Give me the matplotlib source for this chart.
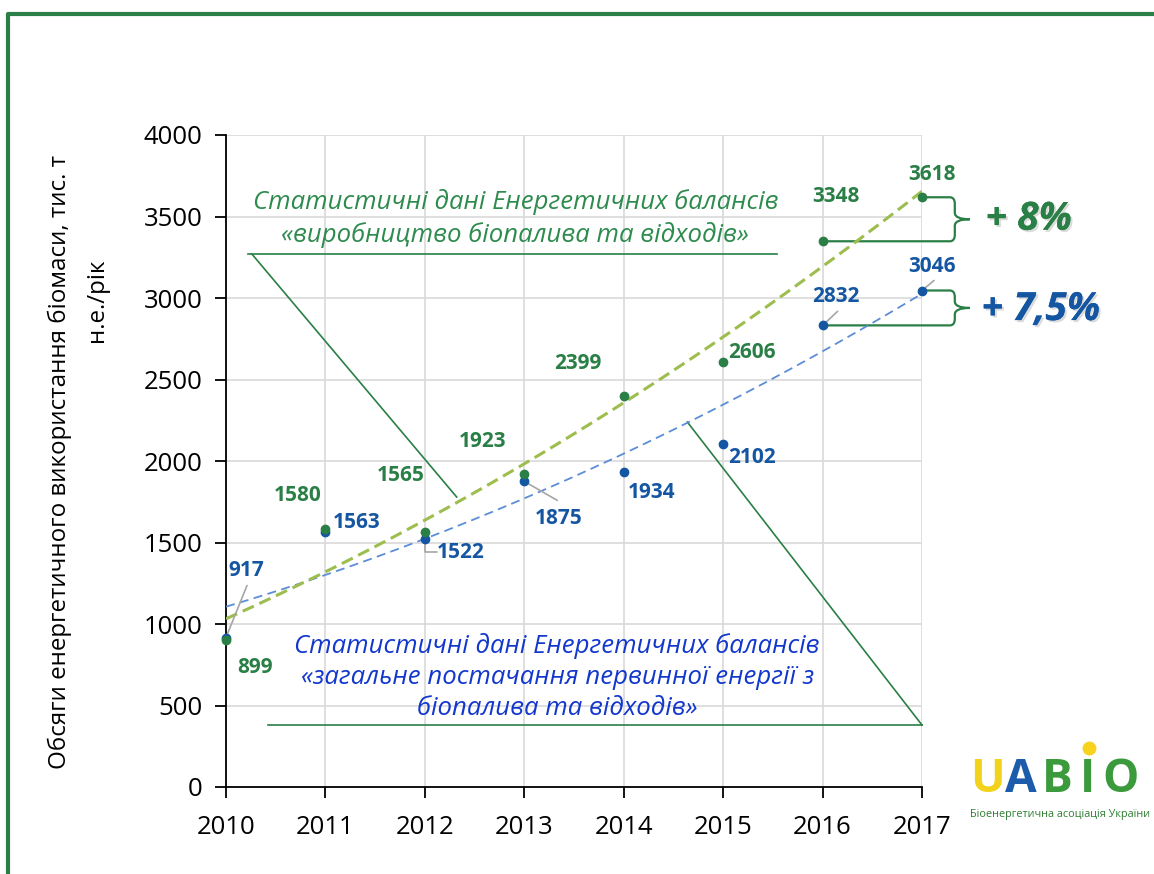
import numpy as np
import matplotlib
matplotlib.use('Agg')
import matplotlib.pyplot as plt
from matplotlib.path import Path
from matplotlib.patches import PathPatch
from matplotlib.lines import Line2D
import matplotlib.patheffects as pe

plt.rcParams['font.family'] = ['Open Sans', 'DejaVu Sans']

# дані
years = [2010, 2011, 2012, 2013, 2014, 2015, 2016, 2017]
vyrobnytstvo = [899, 1580, 1565, 1923, 2399, 2606, 3348, 3618]   # виробництво біопалива та відходів
postachannia = [917, 1563, 1522, 1875, 1934, 2102, 2832, 3046]   # загальне постачання первинної енергії
growth_labels = ['+ 8%', '+ 7,5%']

# зміщення підписів (пікселі)
off_green = [(29, -27), (-28, 34), (-24, 56), (-42, 32), (-46, 32), (29, 10), (13, 45), (10, 23)]
off_blue = [(20, 67), (31, 10), (36, -14), (34, -37), (28, -21), (29, -13), (13, 29), (10, 24)]
# лінії-виноски: індекс -> (dx, dy, з кутом)
leaders = {0: (21, 52, False), 2: (12, -13, True), 3: (33, -19, False), 6: (15, 14, False), 7: (12, 10, False)}

GREEN = '#2A7F46'
BLUE = '#1556A3'
TREND_G = '#9DBE4F'
TREND_B = '#5B8ED6'
ANN_BLUE = '#1237CC'

fig = plt.figure(figsize=(11.54, 8.74), dpi=100)
ax = fig.add_axes([226 / 1154, 1 - 787 / 874, 696 / 1154, 652 / 874])

ax.set_xlim(2010, 2017)
ax.set_ylim(0, 4000)
ax.set_xticks(years)
ax.set_yticks(np.arange(0, 4001, 500))
ax.grid(True, color='#D9D9D9', lw=1.2)
ax.set_axisbelow(True)
for s in ['top', 'right']:
    ax.spines[s].set_visible(False)
for s in ['left', 'bottom']:
    ax.spines[s].set_linewidth(1.3)
ax.tick_params(axis='both', direction='out', length=8, width=1.3, labelsize=18.5)
ax.tick_params(axis='y', pad=9)
ax.tick_params(axis='x', pad=12)

# лінії тренду (поліном 2-го ступеня)
xs = np.array(years) - 2010
xf = np.linspace(0, 7, 200)
cg = np.polyfit(xs, vyrobnytstvo, 2)
cb = np.polyfit(xs, postachannia, 2)
ax.plot(xf + 2010, np.polyval(cb, xf), color=TREND_B, lw=1.3, ls=(0, (5, 3)), zorder=3)
ax.plot(xf + 2010, np.polyval(cg, xf), color=TREND_G, lw=2.2, ls=(0, (4, 2)), zorder=3)

ax.plot(years, postachannia, 'o', color=BLUE, ms=6, zorder=4, clip_on=False)
ax.plot(years, vyrobnytstvo, 'o', color=GREEN, ms=6, zorder=5, clip_on=False)

for i, (yr, v) in enumerate(zip(years, vyrobnytstvo)):
    ax.annotate(str(v), (yr, v), xytext=off_green[i], textcoords='offset pixels',
                ha='center', va='center', fontsize=15, fontweight='bold', color=GREEN)
for i, (yr, v) in enumerate(zip(years, postachannia)):
    ax.annotate(str(v), (yr, v), xytext=off_blue[i], textcoords='offset pixels',
                ha='center', va='center', fontsize=15, fontweight='bold', color=BLUE)
    if i in leaders:
        dx, dy, elbow = leaders[i]
        cs = 'angle,angleA=0,angleB=90,rad=0' if elbow else 'arc3'
        ax.annotate('', (yr, v), xytext=(dx, dy), textcoords='offset pixels',
                    arrowprops=dict(arrowstyle='-', color='#A6A6A6', lw=1.2,
                                    shrinkA=0, shrinkB=0, connectionstyle=cs))

# підписи-пояснення
ax.text(2012.91, 3485, 'Статистичні дані Енергетичних балансів\n«виробництво біопалива та відходів»',
        ha='center', va='center', fontsize=18.5, style='italic', color='#2E8B4E', linespacing=1.35)
ax.plot([2010.22, 2015.54], [3270, 3270], color=GREEN, lw=1.2)
ax.plot([2010.26, 2012.32], [3270, 1779], color=GREEN, lw=1.2)

ax.text(2013.33, 675, 'Статистичні дані Енергетичних балансів\n«загальне постачання первинної енергії з\nбіопалива та відходів»',
        ha='center', va='center', fontsize=18.5, style='italic', color=ANN_BLUE, linespacing=1.3)
ax.plot([2010.42, 2017], [380, 380], color=GREEN, lw=1.2, clip_on=False)
ax.plot([2017, 2014.64], [380, 2239], color=GREEN, lw=1.2, clip_on=False)


def brace(y_top, y_bot, x_top, x_bot):
    x0, tip, r, dy = 2017.33, 2017.48, 0.05, 40
    ym = (y_top + y_bot) / 2
    verts = [(x_top, y_top), (x0 - r, y_top), (x0, y_top), (x0, y_top - dy),
             (x0, ym + dy), (x0, ym), (tip, ym), (x0, ym), (x0, ym - dy),
             (x0, y_bot + dy), (x0, y_bot), (x0 - r, y_bot), (x_bot, y_bot)]
    codes = [Path.MOVETO, Path.LINETO, Path.CURVE3, Path.CURVE3,
             Path.LINETO, Path.CURVE3, Path.CURVE3, Path.CURVE3, Path.CURVE3,
             Path.LINETO, Path.CURVE3, Path.CURVE3, Path.LINETO]
    ax.add_patch(PathPatch(Path(verts, codes), fill=False, ec=GREEN, lw=1.6, clip_on=False))
    return ym


ym1 = brace(vyrobnytstvo[-1], vyrobnytstvo[-2], years[-1], years[-2])
ym2 = brace(postachannia[-1], postachannia[-2], years[-1], years[-2])
shadow = [pe.withSimplePatchShadow(offset=(1.5, -1.5), shadow_rgbFace='#9a9a9a', alpha=0.35), pe.Normal()]
ax.text(2017.64, ym1, growth_labels[0], ha='left', va='center', fontsize=28, fontweight='bold',
        style='italic', color=GREEN, path_effects=shadow)
ax.text(2017.6, ym2 - 10, growth_labels[1], ha='left', va='center', fontsize=28, fontweight='bold',
        style='italic', color='#1556A3', path_effects=shadow)

# підпис осі Y
fig.text(60 / 1154, 1 - 462 / 874, 'Обсяги енергетичного використання біомаси, тис. т',
         rotation=90, ha='center', va='center', fontsize=17.4)
fig.text(97 / 1154, 1 - 300 / 874, 'н.е./рік', rotation=90, ha='center', va='center', fontsize=17.4)

# рамка
fig.add_artist(Line2D([8 / 1154, 8 / 1154, 1.0], [0, 1 - 14 / 874, 1 - 14 / 874],
                      color='#2A7F46', lw=3, transform=fig.transFigure))

# логотип
for ch, cx, col in [('U', 987, '#F2D21B'), ('A', 1021, '#1C5CAB'), ('B', 1057, '#3A9A3C'),
                    ('I', 1087, '#3A9A3C'), ('O', 1121, '#3A9A3C')]:
    fig.text(cx / 1154, 1 - 779 / 874, ch, ha='center', va='center', fontsize=33,
             fontweight='bold', color=col)
fig.add_artist(Line2D([1089 / 1154], [1 - 748 / 874], marker='o', ms=9, color='#F7D31E',
                      transform=fig.transFigure))
fig.text(1060 / 1154, 1 - 815 / 874, 'Біоенергетична асоціація України', ha='center', va='center',
         fontsize=7.8, color='#2E7D32')

fig.savefig('out.png', dpi=100)
